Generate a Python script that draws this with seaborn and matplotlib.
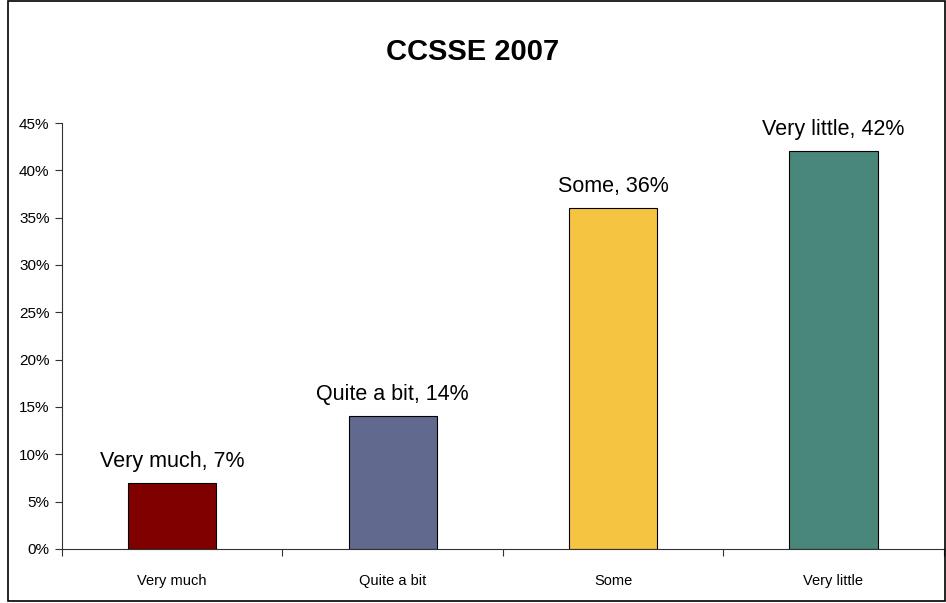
import matplotlib
matplotlib.use("Agg")
import matplotlib.pyplot as plt
import seaborn as sns
import pandas as pd
from matplotlib.ticker import FuncFormatter, MultipleLocator, FixedLocator
from matplotlib.patches import Rectangle

sns.set_style("white")
plt.rcParams["font.family"] = ["Liberation Sans", "DejaVu Sans"]
plt.rcParams["text.color"] = "black"
plt.rcParams["xtick.color"] = "black"
plt.rcParams["ytick.color"] = "black"

categories = ["Very much", "Quite a bit", "Some", "Very little"]
values = [7, 14, 36, 42]
colors = ["#800000", "#616A8E", "#F5C542", "#48877A"]

df = pd.DataFrame({"category": categories, "pct": values})

fig = plt.figure(figsize=(9.46, 6.03), dpi=100)
ax = fig.add_axes([0.0655, 0.0896, 0.932, 0.7064])

sns.barplot(data=df, x="category", y="pct", hue="category", palette=colors,
            legend=False, width=0.4, edgecolor="black", linewidth=0.8,
            saturation=1, ax=ax)

for i, (cat, v) in enumerate(zip(categories, values)):
    ax.annotate(f"{cat}, {v}%", (i, v), xytext=(0, 8), textcoords="offset points",
                ha="center", va="bottom", fontsize=15.5)

ax.set_xlim(-0.5, 3.5)
ax.set_ylim(0, 45)
ax.yaxis.set_major_locator(MultipleLocator(5))
ax.yaxis.set_major_formatter(FuncFormatter(lambda v, p: f"{v:.0f}%"))
ax.xaxis.set_minor_locator(FixedLocator([-0.5, 0.5, 1.5, 2.5, 3.5]))
ax.tick_params(axis="x", which="major", length=0, labelsize=10.5, pad=18)
ax.tick_params(axis="x", which="minor", length=5, width=0.8, color="#333333",
               direction="out", bottom=True)
ax.tick_params(axis="y", length=5, width=0.8, color="#333333", direction="out",
               left=True, labelsize=11, pad=4)
ax.set_xlabel("")
ax.set_ylabel("")
for s in ["top", "right"]:
    ax.spines[s].set_visible(False)
for s in ["left", "bottom"]:
    ax.spines[s].set_color("#333333")
    ax.spines[s].set_linewidth(0.8)

fig.text(0.5, 0.913, "CCSSE 2007", ha="center", va="center",
         fontsize=21, fontweight="bold")

fig.patches.append(Rectangle((0.0085, 0.003), 0.99, 0.995, transform=fig.transFigure,
                             fill=False, edgecolor="black", linewidth=1.2))

fig.savefig("out.png", dpi=100)
